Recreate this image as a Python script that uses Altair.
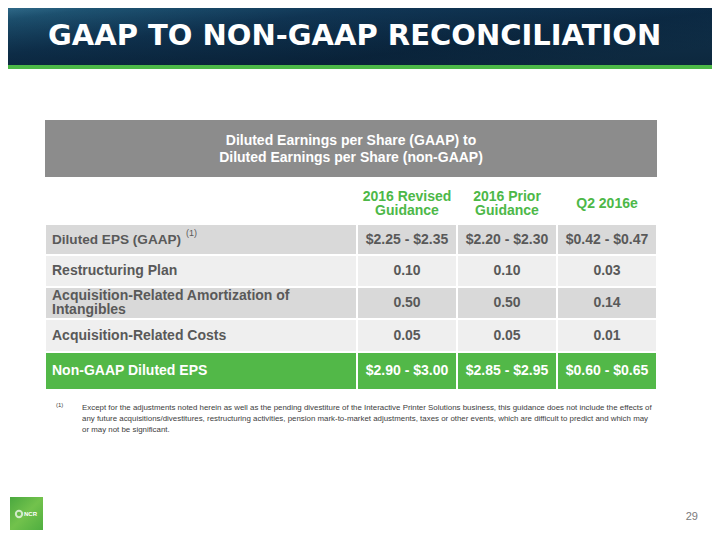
import altair as alt
import pandas as pd

# ---------------- data ----------------
slide_title = "GAAP TO NON-GAAP RECONCILIATION"
table_title = ["Diluted Earnings per Share (GAAP) to", "Diluted Earnings per Share (non-GAAP)"]
col_headers = ["2016 Revised\nGuidance", "2016 Prior\nGuidance", "Q2 2016e"]
row_labels = [
    "Diluted EPS (GAAP)",
    "Restructuring Plan",
    "Acquisition-Related Amortization of\nIntangibles",
    "Acquisition-Related Costs",
    "Non-GAAP Diluted EPS",
]
revised_2016 = ["$2.25 - $2.35", "0.10", "0.50", "0.05", "$2.90 - $3.00"]
prior_2016 = ["$2.20 - $2.30", "0.10", "0.50", "0.05", "$2.85 - $2.95"]
q2_2016e = ["$0.42 - $0.47", "0.03", "0.14", "0.01", "$0.60 - $0.65"]
row_kind = ["shade", "plain", "shade", "plain", "total"]
label_note = "(1)"
footnote_mark = "(1)"
footnote_lines = [
    "Except for the adjustments noted herein as well as the pending divestiture of the Interactive Printer Solutions business, this guidance does not include the effects of",
    "any future acquisitions/divestitures, restructuring activities, pension mark-to-market adjustments, taxes or other events, which are difficult to predict and which may",
    "or may not be significant.",
]
page_number = "29"
logo_text = "NCR"

# ---------------- layout / style (slide pixel units) ----------------
COL_EDGES = [45, 357, 457, 557, 657]
ROW_EDGES = [224, 255, 287, 319, 352, 390]
LABEL_X = 52
HEADER_Y = 204
TITLE_Y = 149

W, H = 704, 524
XS = alt.Scale(domain=[0, 720], range=[-8, 712], nice=False, zero=False)
YS = alt.Scale(domain=[0, 540], range=[-8, 532], nice=False, zero=False)

FONT = "Liberation Sans"
TXT = "#595959"
GREEN = "#52b848"
FILL_OF = {"shade": "#d9d9d9", "plain": "#efefef", "total": GREEN}
INK_OF = {"shade": TXT, "plain": TXT, "total": "white"}


def enc(x="x", y="y", x2=None, y2=None, **kw):
    e = dict(x=alt.X(x, type="quantitative", scale=XS, axis=None),
             y=alt.Y(y, type="quantitative", scale=YS, axis=None))
    if x2:
        e["x2"] = alt.X2(x2)
    if y2:
        e["y2"] = alt.Y2(y2)
    e.update(kw)
    return e


def box(x0, x1, y0, y1):
    return pd.DataFrame({"x": [x0], "x2": [x1], "y": [y0], "y2": [y1]})


def pt(x, y, text=""):
    return pd.DataFrame({"x": [x], "y": [y], "text": [text]})


def centered(y, text, lh):
    # anchor of first line so that a multi-line block is centred on y
    return y - (text.count("\n")) * lh / 2


layers = []

# banner
banner_grad = alt.LinearGradient(
    gradient="linear",
    stops=[alt.GradientStop(color="#3f7f9f", offset=0),
           alt.GradientStop(color="#1f5676", offset=0.15),
           alt.GradientStop(color="#113858", offset=0.4),
           alt.GradientStop(color="#0c2b46", offset=0.75),
           alt.GradientStop(color="#123550", offset=1)],
    x1=0, x2=1, y1=0, y2=0.7)
layers.append(alt.Chart(box(0, 720, 0, 65)).mark_rect(color=banner_grad).encode(**enc(x2="x2", y2="y2")))
shade_grad = alt.LinearGradient(
    gradient="linear",
    stops=[alt.GradientStop(color="rgba(5,20,35,0)", offset=0),
           alt.GradientStop(color="rgba(5,20,35,0.4)", offset=1)],
    x1=0, x2=0, y1=0, y2=1)
layers.append(alt.Chart(box(0, 720, 0, 65)).mark_rect(color=shade_grad).encode(**enc(x2="x2", y2="y2")))
layers.append(alt.Chart(box(0, 720, 65, 69)).mark_rect(color="#4cb847").encode(**enc(x2="x2", y2="y2")))
layers.append(alt.Chart(pt(48, 45, slide_title)).mark_text(
    align="left", baseline="alphabetic", font="DejaVu Sans", fontWeight="bold", fontSize=29, color="white"
).encode(**enc(text="text:N")))

# table title block
tt = "\n".join(table_title)
layers.append(alt.Chart(box(COL_EDGES[0], COL_EDGES[-1], 120, 177)).mark_rect(color="#8c8c8c").encode(**enc(x2="x2", y2="y2")))
layers.append(alt.Chart(pt((COL_EDGES[0] + COL_EDGES[-1]) / 2, centered(TITLE_Y, tt, 17), tt)).mark_text(
    align="center", baseline="middle", font=FONT, fontWeight="bold", fontSize=14, lineHeight=17,
    lineBreak="\n", color="white"
).encode(**enc(text="text:N")))

# column headers
hdr = pd.DataFrame({
    "x": [(COL_EDGES[i + 1] + COL_EDGES[i + 2]) / 2 for i in range(3)],
    "y": [centered(HEADER_Y, t, 14.5) for t in col_headers],
    "text": col_headers,
})
layers.append(alt.Chart(hdr).mark_text(
    align="center", baseline="middle", font=FONT, fontWeight="bold", fontSize=14, lineHeight=14.5,
    lineBreak="\n", color="#4db848"
).encode(**enc(text="text:N")))

# cells
cells = []
for r in range(len(row_labels)):
    for c in range(4):
        cells.append({"x": COL_EDGES[c], "x2": COL_EDGES[c + 1], "y": ROW_EDGES[r],
                      "y2": ROW_EDGES[r + 1], "fill": FILL_OF[row_kind[r]]})
cells = pd.DataFrame(cells)
layers.append(alt.Chart(cells).mark_rect(stroke="white", strokeWidth=2).encode(
    **enc(x2="x2", y2="y2", color=alt.Color("fill:N", scale=None))))

# values
vals = []
for r in range(len(row_labels)):
    for c, series in enumerate([revised_2016, prior_2016, q2_2016e]):
        vals.append({"x": (COL_EDGES[c + 1] + COL_EDGES[c + 2]) / 2,
                     "y": (ROW_EDGES[r] + ROW_EDGES[r + 1]) / 2,
                     "text": series[r], "ink": INK_OF[row_kind[r]]})
vals = pd.DataFrame(vals)
layers.append(alt.Chart(vals).mark_text(
    align="center", baseline="middle", font=FONT, fontWeight="bold", fontSize=14
).encode(**enc(text="text:N", color=alt.Color("ink:N", scale=None))))

# row labels
labs = pd.DataFrame({
    "x": [LABEL_X] * len(row_labels),
    "y": [centered((ROW_EDGES[r] + ROW_EDGES[r + 1]) / 2, row_labels[r], 14.5) for r in range(len(row_labels))],
    "text": row_labels,
    "ink": [INK_OF[k] for k in row_kind],
    "first": [r == 0 for r in range(len(row_labels))],
})
layers.append(alt.Chart(labs).transform_filter("datum.first").mark_text(
    align="left", baseline="middle", font=FONT, fontWeight="bold", fontSize=13.6
).encode(**enc(text="text:N", color=alt.Color("ink:N", scale=None))))
layers.append(alt.Chart(labs).transform_filter("!datum.first").mark_text(
    align="left", baseline="middle", font=FONT, fontWeight="bold", fontSize=14, lineHeight=14.5,
    lineBreak="\n"
).encode(**enc(text="text:N", color=alt.Color("ink:N", scale=None))))
layers.append(alt.Chart(pt(186, 233, label_note)).mark_text(
    align="left", baseline="middle", font=FONT, fontSize=9, color=TXT
).encode(**enc(text="text:N")))

# footnote
layers.append(alt.Chart(pt(56, 405, footnote_mark)).mark_text(
    align="left", baseline="middle", font=FONT, fontSize=6, color="#404040"
).encode(**enc(text="text:N")))
fn = pd.DataFrame({"x": [82] * len(footnote_lines),
                   "y": [408 + 11 * i for i in range(len(footnote_lines))],
                   "text": footnote_lines})
layers.append(alt.Chart(fn).mark_text(
    align="left", baseline="middle", font=FONT, fontSize=7.9, color="#404040"
).encode(**enc(text="text:N")))

# page number
layers.append(alt.Chart(pt(698, 517, page_number)).mark_text(
    align="right", baseline="middle", font=FONT, fontSize=11, color="#7a7a7a"
).encode(**enc(text="text:N")))

# logo
logo_grad = alt.LinearGradient(
    gradient="linear",
    stops=[alt.GradientStop(color="#4aa83f", offset=0),
           alt.GradientStop(color="#72c24c", offset=0.5),
           alt.GradientStop(color="#4fae40", offset=1)],
    x1=0, x2=1, y1=0, y2=1)
layers.append(alt.Chart(box(10, 43, 497, 530)).mark_rect(color=logo_grad).encode(**enc(x2="x2", y2="y2")))
layers.append(alt.Chart(pt(19, 514)).mark_point(
    shape="circle", filled=False, stroke="white", strokeWidth=2, size=40
).encode(**enc()))
layers.append(alt.Chart(pt(24, 514, logo_text)).mark_text(
    align="left", baseline="middle", font=FONT, fontWeight="bold", fontSize=6, color="white"
).encode(**enc(text="text:N")))

chart = alt.layer(*layers).properties(
    width=W, height=H, padding=0, autosize=alt.AutoSizeParams(type="none"),
    background="white"
).configure_view(stroke=None)

chart.save("out.html", embed_options={"renderer": "svg", "actions": False})
